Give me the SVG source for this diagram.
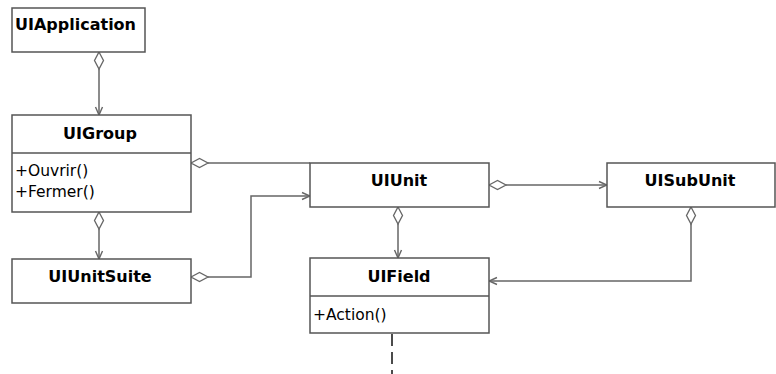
<svg xmlns="http://www.w3.org/2000/svg" width="776" height="374" viewBox="0 0 776 374">
<style>
.box{fill:#fff;stroke:#555;stroke-width:1.5}
.name{font-family:"DejaVu Sans","Liberation Sans",sans-serif;font-weight:bold;font-size:16px;fill:#000}
.meth{font-family:"DejaVu Sans","Liberation Sans",sans-serif;font-size:15.5px;fill:#000}
.ln{fill:none;stroke:#666;stroke-width:1.5}
.dia{fill:#fff;stroke:#666;stroke-width:1.3}
</style>
<defs>
<marker id="arr" markerWidth="10" markerHeight="10" refX="9" refY="5" orient="auto" markerUnits="userSpaceOnUse">
<path d="M1,1.5 L9,5 L1,8.5" fill="none" stroke="#666" stroke-width="1.4"/>
</marker>
</defs>
<rect width="776" height="374" fill="#fff"/>
<g id="connectors">
<path class="ln" d="M99,69 V115" marker-end="url(#arr)"/>
<path class="dia" d="M99,52 L103.5,60.5 L99,69 L94.5,60.5 Z"/>
<path class="ln" d="M99,229 V259" marker-end="url(#arr)"/>
<path class="dia" d="M99,212 L103.5,220.5 L99,229 L94.5,220.5 Z"/>
<path class="ln" d="M208,163 H310"/>
<path class="dia" d="M191,163 L199.5,158.5 L208,163 L199.5,167.5 Z"/>
<path class="ln" d="M208,277 H251 V196 H310" marker-end="url(#arr)"/>
<path class="dia" d="M191,277 L199.5,272.5 L208,277 L199.5,281.5 Z"/>
<path class="ln" d="M506,185 H607" marker-end="url(#arr)"/>
<path class="dia" d="M489,185 L497.5,180.5 L506,185 L497.5,189.5 Z"/>
<path class="ln" d="M398,224 V258" marker-end="url(#arr)"/>
<path class="dia" d="M398,207 L402.5,215.5 L398,224 L393.5,215.5 Z"/>
<path class="ln" d="M691,224 V281 H489" marker-end="url(#arr)"/>
<path class="dia" d="M691,207 L695.5,215.5 L691,224 L686.5,215.5 Z"/>
<path d="M392,334 V374" fill="none" stroke="#111" stroke-width="1.5" stroke-dasharray="12,6"/>
</g>
<g id="UIApplication">
<rect class="box" x="12" y="8" width="133" height="44"/>
<text class="name" x="15" y="30">UIApplication</text>
</g>
<g id="UIGroup">
<rect class="box" x="12" y="115" width="179" height="97"/>
<line class="box" x1="12" y1="153" x2="191" y2="153"/>
<text class="name" x="100" y="139" text-anchor="middle">UIGroup</text>
<text class="meth" x="15" y="176">+Ouvrir()</text>
<text class="meth" x="15" y="197">+Fermer()</text>
</g>
<g id="UIUnitSuite">
<rect class="box" x="12" y="259" width="179" height="44"/>
<text class="name" x="100" y="282" text-anchor="middle">UIUnitSuite</text>
</g>
<g id="UIUnit">
<rect class="box" x="310" y="163" width="179" height="44"/>
<text class="name" x="399" y="186" text-anchor="middle">UIUnit</text>
</g>
<g id="UISubUnit">
<rect class="box" x="607" y="163" width="168" height="44"/>
<text class="name" x="690" y="186" text-anchor="middle">UISubUnit</text>
</g>
<g id="UIField">
<rect class="box" x="310" y="258" width="179" height="75"/>
<line class="box" x1="310" y1="296" x2="489" y2="296"/>
<text class="name" x="399" y="282" text-anchor="middle">UIField</text>
<text class="meth" x="313" y="320">+Action()</text>
</g>
</svg>
